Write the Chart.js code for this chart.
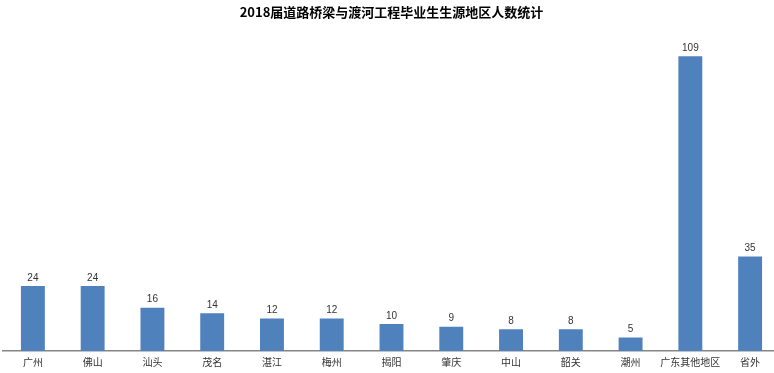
<html>
<head>
  <script src="https://cdn.jsdelivr.net/npm/chart.js@4.4.0/dist/chart.umd.min.js"></script>
  <title>2018届生源地区统计</title>
  <style>
    body { margin: 0; background: #fff; overflow: hidden; }
    #wrap { width: 780px; height: 373px; }
  </style>
</head>
<body>
  <div id="wrap"><canvas id="bar-chart"></canvas></div>
<script>
  var regions = ["广州", "佛山", "汕头", "茂名", "湛江", "梅州", "揭阳", "肇庆", "中山", "韶关", "潮州", "广东其他地区", "省外"];
  var counts = [24, 24, 16, 14, 12, 12, 10, 9, 8, 8, 5, 109, 35];

  // numbers above each bar
  var barLabels = {
    id: "barLabels",
    afterDatasetsDraw: function(chart) {
      var ctx = chart.ctx;
      var meta = chart.getDatasetMeta(0);
      ctx.save();
      ctx.font = "10px 'Liberation Sans', Arial, sans-serif";
      ctx.fillStyle = "#333";
      ctx.textAlign = "center";
      ctx.textBaseline = "bottom";
      meta.data.forEach(function(bar, i) {
        ctx.fillText(counts[i], bar.x, bar.y - 3);
      });
      ctx.restore();
    }
  };

  new Chart(document.getElementById("bar-chart"), {
    type: "bar",
    data: {
      labels: regions,
      datasets: [{
        data: counts,
        backgroundColor: "#4F81BD",
        barPercentage: 0.4,
        categoryPercentage: 1.0
      }]
    },
    options: {
      responsive: true,
      maintainAspectRatio: false,
      animation: false,
      layout: { padding: { left: 3, right: 0, top: 0, bottom: 0 } },
      plugins: {
        legend: { display: false },
        tooltip: { enabled: false },
        title: {
          display: true,
          text: "2018届道路桥梁与渡河工程毕业生生源地区人数统计",
          color: "#000",
          font: { size: 13, weight: "bold", family: "'Noto Sans CJK SC', sans-serif" },
          padding: { top: 4, bottom: 7 }
        }
      },
      scales: {
        x: {
          grid: { display: false, drawTicks: false },
          border: { display: true, color: "#868686", width: 1.5 },
          ticks: {
            color: "#333",
            padding: 5,
            maxRotation: 0,
            autoSkip: false,
            font: { size: 10, family: "'Noto Sans CJK SC', sans-serif" }
          }
        },
        y: {
          display: false,
          min: 0,
          max: 120
        }
      }
    },
    plugins: [barLabels]
  });
</script>
</body>
</html>
